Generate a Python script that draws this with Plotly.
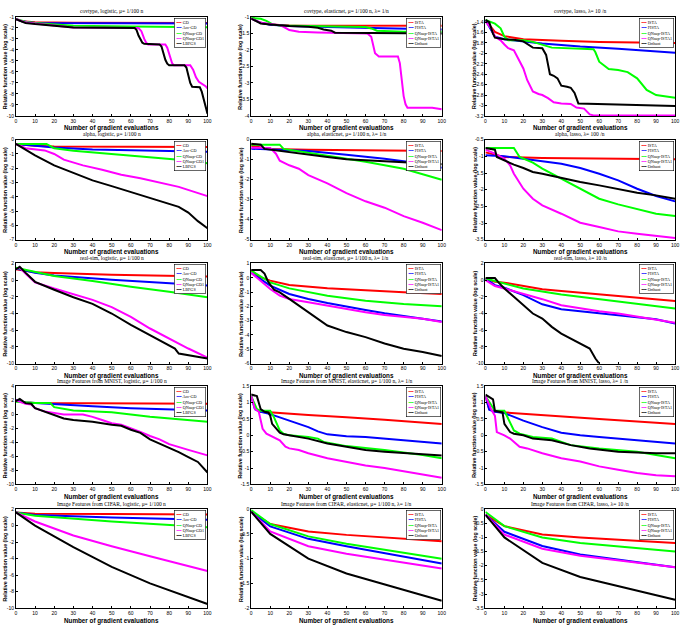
import plotly.graph_objects as go

W, H = 686, 629

# ---------------- data (x = gradient evaluations, y = log relative value) -------------
# Row 1: covtype
cov_log_gd = [(0,-1.2),(3,-1.4),(10,-1.5),(30,-1.53),(100,-1.55)]
cov_log_acc = [(0,-1.2),(3,-1.4),(10,-1.55),(30,-1.57),(100,-1.6)]
cov_log_qn = [(0,-1.2),(5,-1.45),(10,-1.55),(20,-1.7),(30,-1.8),(60,-1.88),(100,-1.95)]
cov_log_qn1 = [(0,-1.2),(5,-1.5),(10,-1.6),(20,-1.8),(25,-1.9),(30,-1.97),(64,-2.02),(65.5,-2.3),(67,-3.0),(68,-3.35),(69,-3.5),(78,-3.5),(79,-3.8),(80.5,-4.6),(81.5,-5.2),(82.5,-5.4),(91,-5.4),(92.5,-5.8),(94,-6.5),(95.5,-6.9),(97,-7.05),(99,-7.3),(100,-7.5)]
cov_log_lbfgs = [(0,-1.2),(5,-1.55),(10,-1.65),(20,-1.82),(25,-1.9),(30,-1.96),(62,-2.02),(63,-2.2),(64,-2.7),(65,-3.1),(66,-3.35),(67,-3.45),(75,-3.5),(76,-3.7),(77,-4.3),(78,-4.9),(79,-5.25),(80,-5.4),(88,-5.4),(89,-5.6),(90,-6.3),(91,-7.0),(92,-7.35),(96,-7.4),(97,-7.8),(98,-8.5),(99,-9.2),(100,-9.8)]

cov_en_ista = [(0,-1.05),(5,-1.18),(10,-1.23),(20,-1.26),(100,-1.27)]
cov_en_fista = [(0,-1.05),(5,-1.18),(10,-1.24),(20,-1.28),(40,-1.31),(60,-1.34),(80,-1.36),(100,-1.38)]
cov_en_qn = [(0,-1.03),(5,-1.06),(8,-1.12),(11,-1.22),(15,-1.26),(30,-1.28),(60,-1.31),(63,-1.35),(66,-1.42),(80,-1.45),(100,-1.45)]
cov_en_qn1 = [(0,-1.05),(5,-1.18),(15,-1.25),(17,-1.3),(20,-1.4),(25,-1.45),(35,-1.47),(61,-1.5),(63,-1.6),(64,-1.85),(65,-2.1),(67,-2.2),(77,-2.2),(78,-2.4),(79,-2.9),(80,-3.4),(81,-3.65),(82,-3.75),(95,-3.75),(100,-3.8)]
cov_en_orth = [(0,-1.05),(3,-1.15),(5,-1.2),(10,-1.23),(20,-1.28),(30,-1.3),(35,-1.33),(38,-1.38),(42,-1.42),(44,-1.48),(100,-1.5)]

cov_la_ista = [(0,-1.36),(5,-1.59),(10,-1.67),(20,-1.73),(40,-1.76),(60,-1.78),(100,-1.8)]
cov_la_fista = [(0,-1.36),(3,-1.55),(5,-1.68),(10,-1.73),(20,-1.77),(30,-1.81),(50,-1.87),(70,-1.91),(100,-1.99)]
cov_la_qn = [(0,-1.36),(5,-1.43),(8,-1.52),(10,-1.68),(12,-1.75),(20,-1.75),(25,-1.78),(30,-1.83),(35,-1.89),(57,-1.92),(58,-1.98),(60,-2.16),(65,-2.3),(70,-2.32),(75,-2.36),(80,-2.48),(85,-2.7),(90,-2.8),(100,-2.85)]
cov_la_qn1 = [(0,-1.39),(3,-1.52),(5,-1.68),(8,-1.75),(10,-1.83),(12,-1.9),(15,-1.94),(18,-2.16),(20,-2.29),(22,-2.51),(25,-2.73),(28,-2.78),(30,-2.8),(33,-2.86),(36,-2.94),(40,-2.96),(45,-2.97),(48,-3.04),(52,-3.06),(55,-3.17),(57,-3.19),(100,-3.19)]
cov_la_orth = [(0,-1.36),(2,-1.4),(4,-1.62),(5,-1.7),(10,-1.73),(15,-1.74),(20,-1.77),(23,-1.84),(25,-1.89),(30,-1.9),(32,-2.03),(34,-2.4),(36,-2.43),(38,-2.48),(40,-2.62),(43,-2.64),(45,-2.66),(47,-2.76),(49,-2.96),(100,-3.01)]

# Row 2: alpha
alp_log_gd = [(0,-0.3),(10,-0.42),(20,-0.47),(50,-0.5),(100,-0.52)]
alp_log_acc = [(0,-0.3),(10,-0.45),(20,-0.55),(40,-0.68),(70,-0.76),(100,-0.85)]
alp_log_qn = [(0,-0.3),(16,-0.3),(18,-0.45),(20,-0.6),(30,-0.78),(50,-1.0),(70,-1.2),(85,-1.4),(100,-1.65)]
alp_log_qn1 = [(0,-0.3),(5,-0.6),(15,-0.75),(20,-1.0),(25,-1.4),(35,-1.8),(45,-2.1),(55,-2.45),(65,-2.7),(75,-3.0),(85,-3.3),(100,-3.95)]
alp_log_lbfgs = [(0,-0.3),(10,-1.1),(20,-1.8),(30,-2.35),(40,-2.85),(50,-3.25),(60,-3.65),(70,-4.05),(80,-4.45),(85,-4.7),(90,-5.1),(95,-5.7),(100,-6.2)]

alp_en_ista = [(0,-0.3),(10,-0.46),(30,-0.5),(100,-0.57)]
alp_en_fista = [(0,-0.45),(10,-0.5),(30,-0.57),(50,-0.75),(70,-0.95),(90,-1.2),(100,-1.4)]
alp_en_qn = [(0,-0.25),(15,-0.25),(17,-0.46),(20,-0.5),(40,-0.8),(60,-1.1),(80,-1.45),(100,-2.0)]
alp_en_qn1 = [(0,-0.4),(10,-0.42),(13,-0.7),(15,-1.05),(20,-1.28),(25,-1.45),(30,-1.77),(40,-2.18),(50,-2.67),(60,-3.08),(70,-3.4),(80,-3.82),(90,-4.15),(100,-4.52)]
alp_en_orth = [(0,-0.2),(5,-0.25),(7,-0.46),(10,-0.5),(20,-0.62),(30,-0.74),(40,-0.87),(50,-0.98),(60,-1.03),(80,-1.12),(100,-1.23)]

alp_la_ista = [(0,-0.88),(10,-1.02),(30,-1.05),(100,-1.09)]
alp_la_fista = [(0,-0.97),(10,-1.0),(20,-1.07),(30,-1.15),(40,-1.22),(50,-1.35),(60,-1.52),(70,-1.72),(80,-1.97),(90,-2.19),(100,-2.35)]
alp_la_qn = [(0,-0.75),(15,-0.75),(18,-1.02),(20,-1.07),(25,-1.19),(30,-1.37),(40,-1.67),(50,-1.97),(60,-2.27),(70,-2.44),(80,-2.59),(90,-2.72),(100,-2.79)]
alp_la_qn1 = [(0,-0.8),(5,-0.92),(10,-1.07),(13,-1.27),(15,-1.52),(20,-1.97),(25,-2.27),(30,-2.47),(40,-2.72),(50,-2.99),(60,-3.12),(70,-3.25),(80,-3.32),(90,-3.39),(100,-3.45)]
alp_la_orth = [(0,-0.75),(5,-0.8),(6,-1.02),(10,-1.12),(15,-1.25),(20,-1.35),(25,-1.47),(30,-1.52),(40,-1.65),(50,-1.77),(60,-1.87),(70,-1.99),(80,-2.09),(90,-2.17),(100,-2.27)]

# Row 3: real-sim
rs_log_gd = [(0,1.3),(10,0.95),(20,0.85),(50,0.65),(100,0.45)]
rs_log_acc = [(0,1.4),(10,0.9),(20,0.55),(50,0.05),(100,-0.65)]
rs_log_qn = [(0,1.5),(10,1.0),(20,0.5),(40,-0.1),(60,-0.8),(80,-1.4),(100,-2.05)]
rs_log_qn1 = [(0,1.3),(2,1.5),(5,0.8),(10,-0.26),(20,-1.0),(30,-1.65),(40,-2.36),(50,-3.24),(60,-4.4),(70,-5.8),(80,-7.0),(90,-8.2),(100,-9.3)]
rs_log_lbfgs = [(0,1.3),(2,1.6),(5,0.9),(10,-0.2),(20,-1.15),(30,-2.05),(40,-2.85),(50,-4.0),(60,-5.35),(70,-6.6),(80,-7.8),(83,-8.2),(85,-8.8),(90,-9.0),(100,-9.4)]

rs_en_ista = [(0,0.5),(5,0.03),(10,-0.2),(20,-0.5),(40,-0.74),(60,-0.9),(80,-1.02),(100,-1.13)]
rs_en_fista = [(0,0.35),(5,-0.1),(10,-0.55),(20,-1.13),(30,-1.48),(40,-1.76),(50,-2.02),(60,-2.25),(70,-2.48),(80,-2.69),(90,-2.87),(100,-3.06)]
rs_en_qn = [(0,0.5),(5,0.1),(10,-0.32),(20,-0.74),(40,-1.25),(60,-1.6),(80,-1.83),(100,-1.99)]
rs_en_qn1 = [(0,0.35),(5,-0.2),(10,-0.79),(15,-1.25),(20,-1.48),(30,-1.71),(40,-1.95),(50,-2.18),(60,-2.41),(70,-2.6),(80,-2.76),(90,-2.87),(100,-3.1)]
rs_en_orth = [(0,0.55),(5,0.55),(7,0.3),(9,-0.3),(12,-0.83),(15,-1.02),(20,-1.48),(25,-1.95),(30,-2.41),(40,-3.34),(50,-3.8),(60,-4.15),(70,-4.6),(80,-4.96),(90,-5.19),(100,-5.47)]

rs_la_ista = [(0,0.2),(5,-0.2),(10,-0.3),(20,-0.7),(30,-1.08),(40,-1.3),(60,-1.72),(80,-2.1),(100,-2.5)]
rs_la_fista = [(0,0.2),(5,-0.6),(10,-0.9),(20,-1.8),(30,-2.9),(40,-3.48),(50,-3.72),(60,-3.95),(70,-4.2),(80,-4.4),(90,-4.7),(100,-5.2)]
rs_la_qn = [(0,0.2),(5,-0.1),(10,-0.4),(20,-1.0),(40,-1.72),(60,-2.28),(80,-2.8),(100,-3.4)]
rs_la_qn1 = [(0,0.0),(5,-0.7),(10,-1.0),(20,-1.6),(30,-2.28),(40,-3.0),(50,-3.4),(60,-3.72),(70,-4.0),(80,-4.35),(90,-4.72),(100,-5.12)]
rs_la_orth = [(0,0.25),(5,0.25),(7,-0.3),(10,-1.0),(15,-2.0),(20,-3.0),(25,-4.0),(30,-4.6),(35,-5.6),(40,-6.4),(45,-7.0),(50,-7.6),(55,-8.2),(58,-9.4),(60,-10.0)]

# Row 4: MNIST
mn_log_gd = [(0,2.0),(5,1.7),(10,1.6),(100,1.5)]
mn_log_acc = [(0,2.0),(5,1.7),(10,1.6),(20,1.48),(40,1.16),(60,0.88),(100,0.56)]
mn_log_qn = [(0,1.8),(10,1.6),(18,1.6),(20,1.02),(30,0.56),(50,0.3),(70,-0.36),(100,-1.05)]
mn_log_qn1 = [(0,2.0),(5,1.5),(8,1.4),(10,0.88),(15,0.42),(20,0.19),(25,-0.04),(35,-0.04),(40,-0.36),(45,-0.82),(50,-1.28),(55,-1.5),(60,-1.96),(65,-2.5),(70,-3.1),(75,-3.57),(80,-4.26),(85,-4.62),(90,-5.08),(100,-5.86)]
mn_log_lbfgs = [(0,1.9),(2,2.2),(5,1.6),(8,1.5),(10,0.88),(15,0.42),(20,-0.13),(25,-0.59),(30,-0.82),(40,-1.05),(50,-1.5),(55,-1.64),(60,-2.2),(65,-2.65),(70,-3.57),(75,-4.17),(80,-4.7),(85,-5.4),(90,-6.1),(95,-6.8),(100,-8.3)]

mn_en_ista = [(0,1.2),(2,0.85),(4,0.73),(10,0.7),(30,0.62),(50,0.55),(70,0.48),(100,0.35)]
mn_en_fista = [(0,1.2),(2,0.8),(5,0.72),(10,0.65),(20,0.45),(30,0.25),(35,0.12),(40,0.03),(50,-0.03),(60,-0.05),(80,-0.15),(100,-0.25)]
mn_en_qn = [(0,1.2),(3,0.8),(5,0.75),(10,0.75),(12,0.55),(15,0.15),(17,0.05),(20,0.0),(30,-0.05),(35,-0.1),(38,-0.2),(50,-0.33),(70,-0.45),(90,-0.6),(100,-0.7)]
mn_en_qn1 = [(0,1.2),(2,0.8),(4,0.72),(5,0.5),(6,0.2),(8,0.05),(10,0.0),(12,-0.05),(15,-0.15),(18,-0.35),(20,-0.4),(25,-0.45),(30,-0.55),(40,-0.7),(50,-0.82),(60,-0.92),(70,-1.0),(80,-1.1),(90,-1.2),(100,-1.3)]
mn_en_orth = [(0,1.25),(3,1.2),(5,0.8),(7,0.72),(9,0.7),(10,0.6),(11,0.35),(13,0.2),(15,0.08),(17,0.03),(20,0.0),(25,-0.05),(30,-0.1),(40,-0.25),(50,-0.35),(60,-0.45),(70,-0.5),(80,-0.55),(90,-0.58),(100,-0.62)]

mn_la_ista = [(0,1.2),(2,0.8),(5,0.72),(10,0.7),(30,0.6),(60,0.5),(100,0.35)]
mn_la_fista = [(0,1.2),(2,0.78),(5,0.72),(10,0.68),(20,0.45),(30,0.25),(40,0.08),(50,0.0),(60,-0.05),(80,-0.15),(100,-0.25)]
mn_la_qn = [(0,1.2),(5,0.75),(10,0.75),(12,0.5),(15,0.15),(18,0.05),(25,-0.05),(35,-0.1),(45,-0.3),(60,-0.4),(80,-0.5),(100,-0.7)]
mn_la_qn1 = [(0,1.2),(3,0.8),(5,0.6),(6,0.1),(10,0.0),(13,-0.1),(18,-0.35),(22,-0.4),(30,-0.55),(40,-0.7),(50,-0.8),(60,-0.95),(70,-1.05),(80,-1.15),(90,-1.22),(100,-1.25)]
mn_la_orth = [(0,1.25),(4,1.1),(5,0.75),(9,0.7),(10,0.35),(13,0.1),(15,0.05),(20,0.0),(25,-0.1),(35,-0.15),(45,-0.3),(55,-0.4),(70,-0.5),(90,-0.55),(100,-0.55)]

# Row 5: CIFAR
cf_log_gd = [(0,1.6),(10,1.45),(50,1.4),(100,1.35)]
cf_log_acc = [(0,1.6),(10,1.3),(50,1.0),(100,0.7)]
cf_log_qn = [(0,1.6),(10,1.2),(50,0.5),(100,-0.2)]
cf_log_qn1 = [(0,1.6),(10,0.5),(30,-1.2),(50,-2.5),(70,-3.7),(100,-5.5)]
cf_log_lbfgs = [(0,1.6),(10,0.0),(30,-2.6),(50,-5.0),(70,-7.0),(100,-9.5)]

cf_en_ista = [(0,-0.05),(10,-0.3),(30,-0.45),(50,-0.52),(100,-0.65)]
cf_en_fista = [(0,-0.05),(10,-0.35),(30,-0.6),(50,-0.75),(100,-1.1)]
cf_en_qn = [(0,-0.02),(10,-0.3),(30,-0.55),(50,-0.7),(100,-1.0)]
cf_en_qn1 = [(0,-0.05),(10,-0.45),(30,-0.75),(50,-0.9),(100,-1.2)]
cf_en_orth = [(0,-0.05),(10,-0.5),(30,-1.0),(50,-1.3),(100,-1.85)]

cf_la_ista = [(0,-0.2),(10,-0.6),(30,-0.9),(50,-1.0),(100,-1.2)]
cf_la_fista = [(0,-0.2),(10,-0.8),(30,-1.3),(50,-1.6),(100,-2.05)]
cf_la_qn = [(0,-0.1),(10,-0.6),(30,-1.0),(50,-1.2),(100,-1.5)]
cf_la_qn1 = [(0,-0.2),(10,-0.9),(30,-1.4),(50,-1.65),(100,-2.05)]
cf_la_orth = [(0,-0.2),(10,-1.0),(30,-1.9),(50,-2.4),(100,-3.2)]

NAMES_LOG = ["GD", "Acc-GD", "QNsup-GD", "QNsup-GD1", "LBFGS"]
NAMES_PROX = ["ISTA", "FISTA", "QNsup-ISTA", "QNsup-ISTA1", "Orthant"]
COLORS = ["#ff0000", "#0000ff", "#00ff00", "#ff00ff", "#000000"]

X_TICKS = list(range(0, 101, 10))

panels = [
    ("covtype, logistic, μ= 1/100 n", [cov_log_gd, cov_log_acc, cov_log_qn, cov_log_qn1, cov_log_lbfgs], NAMES_LOG, (-10, -1), [-1, -2, -3, -4, -5, -6, -7, -8, -9, -10]),
    ("covtype, elasticnet, μ= 1/100 n, λ= 1/n", [cov_en_ista, cov_en_fista, cov_en_qn, cov_en_qn1, cov_en_orth], NAMES_PROX, (-4, -1), [-1, -1.5, -2, -2.5, -3, -3.5, -4]),
    ("covtype, lasso, λ= 10 /n", [cov_la_ista, cov_la_fista, cov_la_qn, cov_la_qn1, cov_la_orth], NAMES_PROX, (-3.2, -1.3), [-1.4, -1.6, -1.8, -2, -2.2, -2.4, -2.6, -2.8, -3, -3.2]),
    ("alpha, logistic, μ= 1/100 n", [alp_log_gd, alp_log_acc, alp_log_qn, alp_log_qn1, alp_log_lbfgs], NAMES_LOG, (-7, 0), [0, -1, -2, -3, -4, -5, -6, -7]),
    ("alpha, elasticnet, μ= 1/100 n, λ= 1/n", [alp_en_ista, alp_en_fista, alp_en_qn, alp_en_qn1, alp_en_orth], NAMES_PROX, (-5, 0), [0, -1, -2, -3, -4, -5]),
    ("alpha, lasso, λ= 100 /n", [alp_la_ista, alp_la_fista, alp_la_qn, alp_la_qn1, alp_la_orth], NAMES_PROX, (-3.5, -0.5), [-0.5, -1, -1.5, -2, -2.5, -3, -3.5]),
    ("real-sim, logistic, μ= 1/100 n", [rs_log_gd, rs_log_acc, rs_log_qn, rs_log_qn1, rs_log_lbfgs], NAMES_LOG, (-10, 2), [2, 0, -2, -4, -6, -8, -10]),
    ("real-sim, elasticnet, μ= 1/100 n, λ= 1/n", [rs_en_ista, rs_en_fista, rs_en_qn, rs_en_qn1, rs_en_orth], NAMES_PROX, (-6, 1), [1, 0, -1, -2, -3, -4, -5, -6]),
    ("real-sim, lasso, λ= 10 /n", [rs_la_ista, rs_la_fista, rs_la_qn, rs_la_qn1, rs_la_orth], NAMES_PROX, (-10, 2), [2, 0, -2, -4, -6, -8, -10]),
    ("Image Features from MNIST, logistic, μ= 1/100 n", [mn_log_gd, mn_log_acc, mn_log_qn, mn_log_qn1, mn_log_lbfgs], NAMES_LOG, (-10, 4), [4, 2, 0, -2, -4, -6, -8, -10]),
    ("Image Features from MNIST, elasticnet, μ= 1/100 n, λ= 1/n", [mn_en_ista, mn_en_fista, mn_en_qn, mn_en_qn1, mn_en_orth], NAMES_PROX, (-1.5, 1.5), [1.5, 1, 0.5, 0, -0.5, -1, -1.5]),
    ("Image Features from MNIST, lasso, λ= 1 /n", [mn_la_ista, mn_la_fista, mn_la_qn, mn_la_qn1, mn_la_orth], NAMES_PROX, (-1.5, 1.5), [1.5, 1, 0.5, 0, -0.5, -1, -1.5]),
    ("Image Features from CIFAR, logistic, μ= 1/100 n", [cf_log_gd, cf_log_acc, cf_log_qn, cf_log_qn1, cf_log_lbfgs], NAMES_LOG, (-10, 2), [2, 0, -2, -4, -6, -8, -10]),
    ("Image Features from CIFAR, elasticnet, μ= 1/100 n, λ= 1/n", [cf_en_ista, cf_en_fista, cf_en_qn, cf_en_qn1, cf_en_orth], NAMES_PROX, (-2, 0), [0, -0.5, -1, -1.5, -2]),
    ("Image Features from CIFAR, lasso, λ= 10 /n", [cf_la_ista, cf_la_fista, cf_la_qn, cf_la_qn1, cf_la_orth], NAMES_PROX, (-3.5, 0), [0, -0.5, -1, -1.5, -2, -2.5, -3, -3.5]),
]

# ---------------- layout (pixel geometry) ----------------
COL_L = [15, 252, 488]
COL_R = [208, 444, 679]
ROW_T = [14, 138, 263, 387, 511]
ROW_B = [114, 239, 364, 486, 611]

def px(x):
    return x / W

def py(y):
    return 1 - y / H

def fmt(v):
    return "%g" % v

fig = go.Figure()
annotations = []
layout_axes = {}
SERIF = "Liberation Serif, DejaVu Serif, serif"
SANS = "Liberation Sans, Arial, sans-serif"

for i, (title, series, names, yr, yt) in enumerate(panels):
    r, c = divmod(i, 3)
    k = i + 1
    xa = "xaxis" if k == 1 else f"xaxis{k}"
    ya = "yaxis" if k == 1 else f"yaxis{k}"
    xref = "x" if k == 1 else f"x{k}"
    yref = "y" if k == 1 else f"y{k}"
    for s, name, col in zip(series, names, COLORS):
        fig.add_trace(go.Scatter(
            x=[p[0] for p in s], y=[p[1] for p in s], mode="lines", name=name,
            line=dict(color=col, width=2), xaxis=xref, yaxis=yref, showlegend=False))
    common = dict(showline=True, mirror=True, linecolor="black", linewidth=0.8,
                  ticks="inside", ticklen=2, tickcolor="black", tickwidth=0.6,
                  showgrid=False, zeroline=False,
                  tickfont=dict(size=5, family=SANS, color="black"))
    layout_axes[xa] = dict(common, domain=[px(COL_L[c]), px(COL_R[c])], range=[0, 100],
                           anchor=yref, tickvals=X_TICKS, ticktext=[str(v) for v in X_TICKS])
    layout_axes[ya] = dict(common, domain=[py(ROW_B[r]), py(ROW_T[r])], range=[yr[0], yr[1]],
                           anchor=xref, tickvals=yt, ticktext=[fmt(v) for v in yt])
    xc = (COL_L[c] + COL_R[c]) / 2
    # title
    annotations.append(dict(text=title, x=px(xc), y=py(ROW_T[r] - 0.5), xref="paper", yref="paper",
                            xanchor="center", yanchor="bottom", showarrow=False,
                            font=dict(size=5.5, family=SERIF, color="black")))
    # x label
    annotations.append(dict(text="<b>Number of gradient evaluations</b>", x=px(xc), y=py(ROW_B[r] + 6.5),
                            xref="paper", yref="paper", xanchor="center", yanchor="top", showarrow=False,
                            font=dict(size=6.3, family=SANS, color="black")))
    # y label
    annotations.append(dict(text="<b>Relative function value (log scale)</b>", x=px(COL_L[c] - 11),
                            y=py((ROW_T[r] + ROW_B[r]) / 2), xref="paper", yref="paper",
                            xanchor="center", yanchor="middle", textangle=-90, showarrow=False,
                            font=dict(size=5.3, family=SANS, color="black")))
    # legend box
    leg = "<br>".join(f"<span style='color:{col}'>━━</span> {n}" for n, col in zip(names, COLORS))
    annotations.append(dict(text=leg, x=px(COL_R[c] - 1), y=py(ROW_T[r] + 1), xref="paper", yref="paper",
                            xanchor="right", yanchor="top", align="left", showarrow=False,
                            bgcolor="white", bordercolor="black", borderwidth=0.6, borderpad=1,
                            font=dict(size=4.2, family=SERIF, color="black")))

fig.update_layout(width=W, height=H, margin=dict(l=0, r=0, t=0, b=0),
                  paper_bgcolor="white", plot_bgcolor="white",
                  annotations=annotations, showlegend=False, **layout_axes)

fig.write_html("out.html")
